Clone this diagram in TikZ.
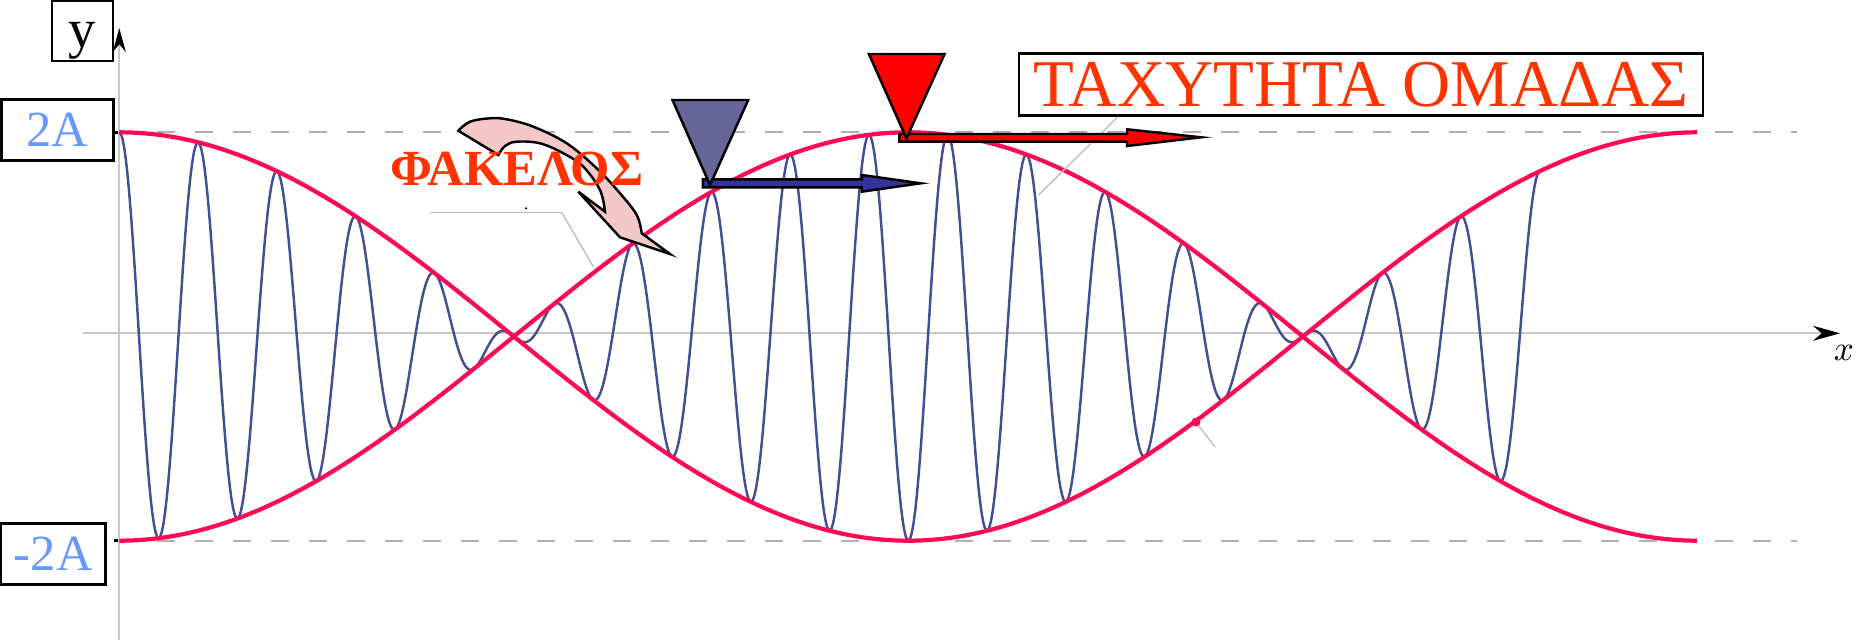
\documentclass[tikz,border=0pt]{standalone}
\usepackage{fontspec}
\setmainfont{Liberation Serif}
\usetikzlibrary{arrows.meta}
\definecolor{envred}{RGB}{255,10,85}
\definecolor{carrierblue}{RGB}{66,80,145}
\definecolor{axisgray}{RGB}{200,200,200}
\definecolor{dashgray}{RGB}{176,176,176}
\definecolor{labelblue}{RGB}{102,153,255}
\definecolor{titlered}{RGB}{255,51,0}
\definecolor{markergray}{RGB}{102,102,153}
\definecolor{arrowblue}{RGB}{51,51,153}
\definecolor{pinkfill}{RGB}{245,200,200}

\begin{document}
\begin{tikzpicture}[
  box/.style={draw, line width=0.7pt, inner sep=0pt, fill=white},
  ampl/.style={box, text=labelblue, font=\fontsize{14.4}{14.4}\selectfont, minimum height=0.61cm},
  axis/.style={draw=axisgray, line width=0.6pt},
  guide/.style={draw=dashgray, line width=0.5pt, dash pattern=on 0.18cm off 0.2cm},
  leader/.style={draw=black!25, line width=0.4pt},
  envelope/.style={envred, line width=1.2pt},
  carrier/.style={carrierblue, line width=0.7pt},
  marker/.style={draw=black, line width=0.7pt, line join=miter},
]
\useasboundingbox (0,0) rectangle (18.64,6.40);
\pgfmathsetmacro{\amp}{2.042}
\pgfmathsetmacro{\period}{15.78}
\pgfmathsetmacro{\ke}{360/\period}
\pgfmathsetmacro{\kc}{20*\ke}
\pgfmathsetmacro{\xend}{0.9*\period}

% axes and amplitude guides
\coordinate (ybot) at (1.193,0);
\coordinate (ytop) at (1.193,6.12);
\coordinate (xl) at (0.827,3.067);
\coordinate (xr) at (18.40,3.067);
\foreach \y in {5.077,0.993} {
    \draw[guide] (1.193,\y) -- (17.97,\y);
    \draw[black, line width=0.7pt] (1.135,\y) -- (1.25,\y);
}
\draw[axis, -{Stealth[black, length=0.24cm, width=0.13cm]}] (ybot) -- (ytop);
\draw[axis, -{Stealth[black, length=0.27cm, width=0.15cm]}] (xl) -- (xr);
\node (xlab) at (18.44,2.87) {$x$};

% leader lines
\coordinate (l1a) at (4.30,4.275);
\coordinate (l1b) at (5.617,4.275);
\coordinate (l1c) at (5.933,3.733);
\draw[leader] (l1a) -- (l1b) -- (l1c);
\fill (5.26,4.317) circle (0.012);

% wave packet and its envelope
\begin{scope}[shift={(1.193,3.035)}]
    \draw[carrier] plot[domain=0:\xend, samples=900] (\x,{\amp*cos(\ke*\x)*cos(\kc*\x)});
    \foreach \s in {1,-1}
        \draw[envelope] plot[domain=0:\period, samples=200, smooth] (\x,{\s*\amp*cos(\ke*\x)});
\end{scope}

\coordinate (dot) at (11.96,2.18);
\draw[leader] (dot) -- ++(0.19,-0.25);
\fill[envred] (dot) circle (0.045);

% labels
\node[box, text height=0.334cm, text depth=0pt, minimum width=0.61cm, minimum height=0.60cm,
      font=\fontsize{15.6}{15.6}\selectfont] (ylab) at (0.825,6.09) {y};
\node[ampl, minimum width=1.12cm] (twoA) at (0.575,5.10) {2A};
\node[ampl, minimum width=1.045cm] (mtwoA) at (0.533,0.862) {-2A};

% curved arrow
\filldraw[marker, fill=pinkfill]
    plot[smooth, tension=0.6] coordinates {(4.583,5.093) (4.70,5.183) (4.90,5.217) (5.067,5.207)
        (5.333,5.133) (5.667,4.967) (5.967,4.717) (6.20,4.467) (6.367,4.25) (6.417,4.067)}
    -- (6.70,3.86) -- (6.20,4.027) -- (5.783,4.483) -- (6.05,4.283)
    -- plot[smooth, tension=0.6] coordinates {(6.05,4.283) (6.0,4.50) (5.833,4.733) (5.633,4.867)
        (5.40,4.967) (5.167,4.983) (5.05,4.94) (4.983,4.85)}
    -- cycle;
\node[text=titlered, font=\bfseries\fontsize{14.4}{14.4}\selectfont, anchor=base] (fakelos) at (5.167,4.55) {ΦΑΚΕΛΟΣ};

\node[box, text=titlered, font=\fontsize{19}{19}\selectfont, minimum width=6.84cm, minimum height=0.622cm] (omada) at (13.61,5.554) {ΤΑΧΥΤΗΤΑ ΟΜΑΔΑΣ};
\coordinate (l2a) at (10.386,4.45);
\draw[leader] (l2a) -- ([xshift=1cm]omada.south west);

% phase and group markers
\filldraw[marker, fill=arrowblue] (7.029,4.607) -- (8.618,4.607) -- (8.618,4.65) -- (9.207,4.567)
    -- (8.618,4.483) -- (8.618,4.527) -- (7.029,4.527) -- cycle;
\filldraw[marker, fill=markergray] (6.725,5.40) -- (7.482,5.40) -- (7.10,4.55) -- cycle;
\filldraw[marker, fill=red] (8.993,5.06) -- (11.27,5.06) -- (11.27,5.107) -- (12.01,5.027)
    -- (11.27,4.94) -- (11.27,4.983) -- (8.993,4.983) -- cycle;
\filldraw[marker, fill=red] (8.689,5.86) -- (9.446,5.86) -- (9.064,5.017) -- cycle;
\end{tikzpicture}
\end{document}
